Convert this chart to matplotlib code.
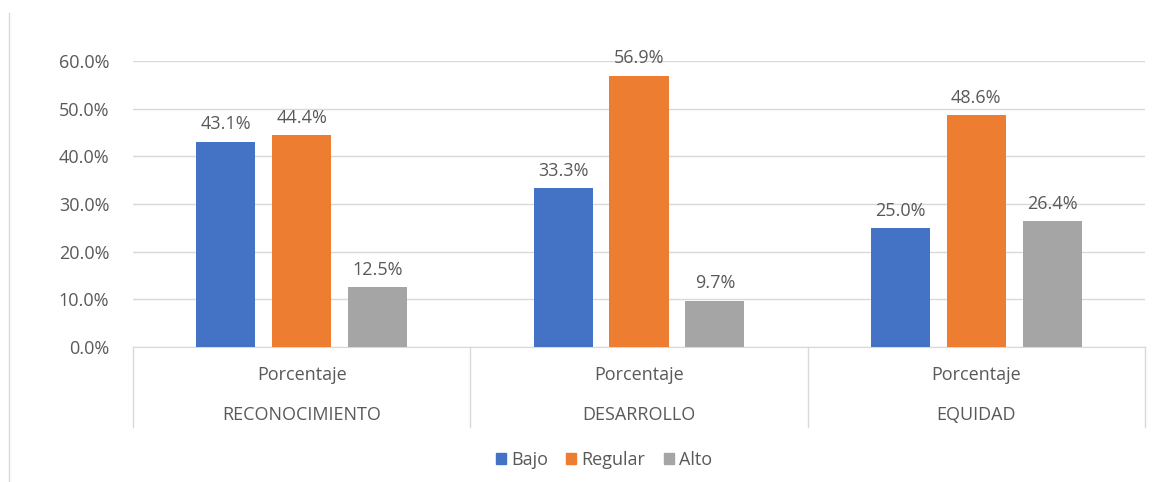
import numpy as np
import matplotlib.pyplot as plt
from matplotlib.ticker import PercentFormatter
from matplotlib.patches import Patch

# data
categories = ["RECONOCIMIENTO", "DESARROLLO", "EQUIDAD"]
sub_label = "Porcentaje"
series = ["Bajo", "Regular", "Alto"]
bajo = [0.431, 0.333, 0.250]
regular = [0.444, 0.569, 0.486]
alto = [0.125, 0.097, 0.264]
colors = ["#4472c4", "#ed7d31", "#a5a5a5"]
yticks = [0.0, 0.1, 0.2, 0.3, 0.4, 0.5, 0.6]

plt.rcParams['font.family'] = ['Open Sans', 'DejaVu Sans']
txt = "#595959"
fs = 13

fig = plt.figure(figsize=(11.74, 4.82), dpi=100)
ax = fig.add_axes([133/1174, 1 - 347/482, (1145 - 133)/1174, (347 - 61)/482])

x = np.arange(len(categories))
w = 0.175
step = 0.225
for i, (name, vals) in enumerate(zip(series, [bajo, regular, alto])):
    xs = x + (i - 1) * step
    ax.bar(xs, vals, w, color=colors[i], label=name, zorder=3)
    for xi, v in zip(xs, vals):
        ax.annotate(f"{v*100:.1f}%", (xi, v), xytext=(0, 6), textcoords="offset points",
                    ha="center", va="bottom", fontsize=fs, color=txt)

ax.set_xlim(-0.5, len(categories) - 0.5)
ax.set_ylim(0, 0.6)
ax.set_yticks(yticks)
ax.yaxis.set_major_formatter(PercentFormatter(1.0, decimals=1))
ax.tick_params(axis='y', length=0, pad=17, labelsize=fs, labelcolor=txt)
ax.set_xticks([])
ax.grid(axis='y', color="#d9d9d9", linewidth=1, zorder=0)
for s in ["top", "right", "left"]:
    ax.spines[s].set_visible(False)
ax.spines["bottom"].set_color("#d9d9d9")

# category axis: separators and two-level labels
trans = ax.get_xaxis_transform()
for b in np.arange(len(categories) + 1) - 0.5:
    ax.plot([b, b], [0, -0.28], transform=trans, color="#d9d9d9", lw=1, clip_on=False)
for xi, c in zip(x, categories):
    ax.text(xi, -0.098, sub_label, transform=trans, ha="center", va="center", fontsize=fs, color=txt)
    ax.text(xi, -0.238, c, transform=trans, ha="center", va="center", fontsize=fs, color=txt)

handles = [Patch(color=c, label=s) for c, s in zip(colors, series)]
fig.legend(handles=handles, loc="center", bbox_to_anchor=(604/1174, 1 - 460/482), ncol=3,
           frameon=False, fontsize=fs, labelcolor=txt, handlelength=0.55, handleheight=0.55,
           handletextpad=0.3, columnspacing=1.0)

# left chart border fragment
fig.add_artist(plt.Line2D([9/1174, 9/1174], [0, 1 - 13/482], color="#d9d9d9", lw=1))

fig.savefig("out.png", dpi=100)
